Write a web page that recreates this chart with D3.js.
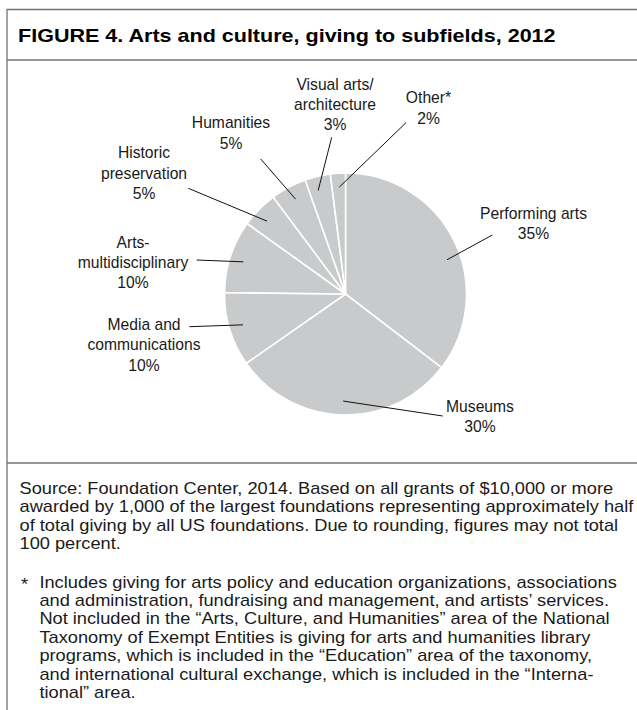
<!DOCTYPE html>
<html>
<head>
<meta charset="utf-8">
<script src="https://cdn.jsdelivr.net/npm/d3@7"></script>
<style>
  html, body { margin: 0; padding: 0; background: #fff; }
  svg { display: block; }
  text { font-family: "Liberation Sans Narrow", "Liberation Sans", Arial, sans-serif; fill: #1a1a1a; }
</style>
</head>
<body>
<svg id="chart" width="637" height="710"></svg>
<script>
// ---- Data ----
const title = "FIGURE 4. Arts and culture, giving to subfields, 2012";
const categories = ["Performing arts", "Museums", "Media and communications", "Arts-multidisciplinary",
  "Historic preservation", "Humanities", "Visual arts/architecture", "Other*"];
const shares = [35.4, 29.9, 9.9, 9.7, 4.9, 4.8, 3.4, 2.0];
const labelLines = [["Performing arts"], ["Museums"], ["Media and", "communications"], ["Arts-", "multidisciplinary"],
  ["Historic", "preservation"], ["Humanities"], ["Visual arts/", "architecture"], ["Other*"]];
const sourceLines = [
  "Source: Foundation Center, 2014. Based on all grants of $10,000 or more",
  "awarded by 1,000 of the largest foundations representing approximately half",
  "of total giving by all US foundations. Due to rounding, figures may not total",
  "100 percent."
];
const noteLines = [
  "Includes giving for arts policy and education organizations, associations",
  "and administration, fundraising and management, and artists’ services.",
  "Not included in the “Arts, Culture, and Humanities” area of the National",
  "Taxonomy of Exempt Entities is giving for arts and humanities library",
  "programs, which is included in the “Education” area of the taxonomy,",
  "and international cultural exchange, which is included in the “Interna-",
  "tional” area."
];

// ---- Layout (label anchors & leader ends, fraction of slice angle for leader tip) ----
const labelLayout = [
  { x: 533.5, y: 219,   lx: 492.3, ly: 235,   f: 0.56 },
  { x: 480,   y: 411.5, lx: 442.7, ly: 416,   f: 0.50 },
  { x: 144,   y: 330,   lx: 189.3, ly: 326.7, f: 0.51 },
  { x: 133,   y: 247.5, lx: 196.7, ly: 260,   f: 0.48 },
  { x: 144,   y: 158.3, lx: 188.3, ly: 188.3, f: 0.41 },
  { x: 231,   y: 128.3, lx: 260.7, ly: 159,   f: 0.52 },
  { x: 335,   y: 89.5,  lx: 331.7, ly: 137.3, f: 0.38 },
  { x: 428.5, y: 103.3, lx: 406,   ly: 122.7, f: 0.54 }
];

const svg = d3.select("#chart");
const W = 637, H = 710;
const frameColor = "#737373";

// ---- Frame ----
const frame = svg.append("g").attr("stroke", frameColor).attr("stroke-width", 1.3).attr("fill", "none");
frame.append("line").attr("x1", 7).attr("x2", 7).attr("y1", 9).attr("y2", H);
frame.append("line").attr("x1", 7).attr("x2", W).attr("y1", 9.5).attr("y2", 9.5);
frame.append("line").attr("x1", 7).attr("x2", W).attr("y1", 60).attr("y2", 60);
frame.append("line").attr("x1", 7).attr("x2", W).attr("y1", 463).attr("y2", 463);

// helper: condensed text by horizontal scaling
function fitScale(sel, target) {
  const n = sel.node().getComputedTextLength();
  return target / n;
}

// ---- Title ----
const tg = svg.append("g").attr("transform", "translate(18,41.7)");
const tt = tg.append("text").attr("font-weight", 700).attr("font-size", 19).text(title).style("fill", "#000");
tg.attr("transform", `translate(18,41.7) scale(${fitScale(tt, 538)},1)`);

// ---- Pie ----
const cx = 345.5, cy = 294, R = 121;
const pie = d3.pie().sort(null).value(d => d).startAngle(0).endAngle(2 * Math.PI);
const arcs = pie(shares);
const arc = d3.arc().innerRadius(0).outerRadius(R);
const pg = svg.append("g").attr("transform", `translate(${cx},${cy})`);
pg.selectAll("path.slice").data(arcs).join("path")
  .attr("class", "slice")
  .attr("d", arc)
  .attr("fill", "#c8cacb")
  .attr("stroke", "#fff")
  .attr("stroke-width", 1.6)
  .attr("stroke-linejoin", "round");

// ---- Leaders ----
const rTip = R * 0.885;
svg.append("g").selectAll("line").data(arcs).join("line")
  .attr("x1", (d, i) => labelLayout[i].lx)
  .attr("y1", (d, i) => labelLayout[i].ly)
  .attr("x2", (d, i) => { const a = d.startAngle + labelLayout[i].f * (d.endAngle - d.startAngle); return cx + rTip * Math.sin(a); })
  .attr("y2", (d, i) => { const a = d.startAngle + labelLayout[i].f * (d.endAngle - d.startAngle); return cy - rTip * Math.cos(a); })
  .attr("stroke", "#111")
  .attr("stroke-width", 1);

// ---- Labels ----
const labelFont = 16.2, labelLH = 20.5;
const probe = svg.append("text").attr("font-size", labelFont).text(labelLines[0][0]);
const labelScale = fitScale(probe, 107);
probe.remove();
const lg = svg.append("g");
shares.forEach((v, i) => {
  const L = labelLayout[i];
  const lines = labelLines[i].concat([Math.round(v) + "%"]);
  const g = lg.append("g").attr("transform", `translate(${L.x},${L.y}) scale(${labelScale},1)`);
  const t = g.append("text").attr("font-size", labelFont).attr("text-anchor", "middle");
  lines.forEach((s, k) => t.append("tspan").attr("x", 0).attr("y", k * labelLH).text(s));
});

// ---- Source & notes ----
const noteFont = 16.4;
const sg = svg.append("g");
const st = sg.append("text").attr("font-size", noteFont);
sourceLines.forEach((s, k) => st.append("tspan").attr("x", 0).attr("y", k * 18.5).text(s));
const probe2 = svg.append("text").attr("font-size", noteFont).text(sourceLines[1]);
const noteScale = fitScale(probe2, 614);
probe2.remove();
sg.attr("transform", `translate(19.5,494) scale(${noteScale},1)`);

const ng = svg.append("g").attr("transform", `translate(39.4,587.7) scale(${noteScale},1)`);
const nt = ng.append("text").attr("font-size", noteFont);
noteLines.forEach((s, k) => nt.append("tspan").attr("x", 0).attr("y", k * 18.4).text(s));
svg.append("g").attr("transform", `translate(21,590) scale(${noteScale},1)`)
  .append("text").attr("font-size", noteFont).text("*");
</script>
</body>
</html>
